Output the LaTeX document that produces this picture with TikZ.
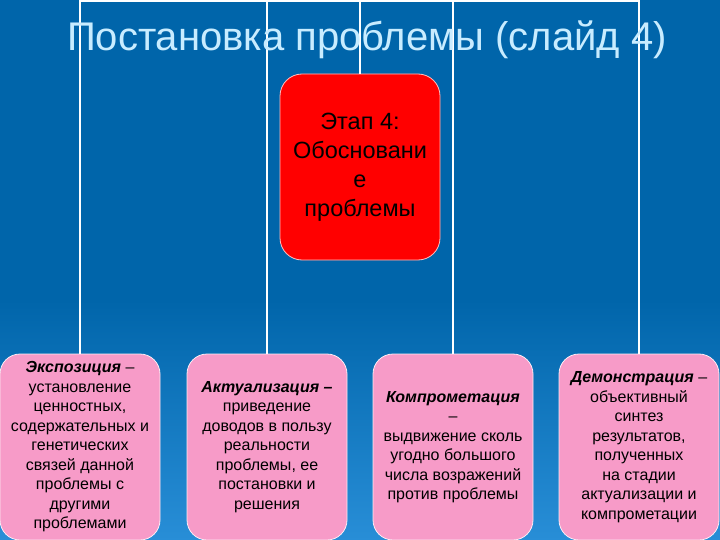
\documentclass[tikz,border=0pt]{standalone}
\usepackage{fontspec}
\setmainfont{Liberation Sans}
\definecolor{bgtop}{RGB}{0,101,170}
\definecolor{bgbot}{RGB}{40,142,215}
\definecolor{pinkfill}{RGB}{247,155,200}
\definecolor{titlecol}{RGB}{200,236,255}
\tikzset{
  conn/.style={draw=white, line width=1.6pt},
  stagebox/.style={rectangle, rounded corners=20pt, fill=pinkfill, draw=white!80!pinkfill, line width=0.8pt,
    minimum width=160pt, minimum height=186pt, inner sep=0pt, align=center,
    font=\fontsize{16}{19.5}\selectfont, text=black},
  mainbox/.style={rectangle, rounded corners=22pt, fill=red, draw=white!75!red, line width=0.8pt,
    minimum width=160pt, minimum height=186pt, inner sep=0pt, align=center,
    font=\fontsize{23.5}{29}\selectfont, text=black}
}
\begin{document}
\begin{tikzpicture}[x=1pt,y=-1pt]
\useasboundingbox (0,0) rectangle (720,540);
\fill[bgtop] (0,0) rectangle (720,300);
\shade[top color=bgtop, bottom color=bgbot] (0,299.5) rectangle (720,540);
\node[mainbox] (top) at (360,167) {Этап 4:\\Обосновани\\е\\проблемы};
\node[stagebox] (e1) at (80,447) {\textbf{\textit{Экспозиция}} –\\установление\\ценностных,\\содержательных и\\генетических\\связей данной\\проблемы с\\другими\\проблемами};
\node[stagebox] (e2) at (267,447) {\textbf{\textit{Актуализация –}}\\приведение\\доводов в пользу\\реальности\\проблемы, ее\\постановки и\\решения};
\node[stagebox] (e3) at (453,447) {\textbf{\textit{Компрометация}}\\–\\выдвижение сколь\\угодно большого\\числа возражений\\против проблемы};
\node[stagebox] (e4) at (639,447) {\textbf{\textit{Демонстрация}} –\\объективный\\синтез\\результатов,\\полученных\\на стадии\\актуализации и\\компрометации};
\coordinate (hub) at (360,1);
\draw[conn] (top.north) -- (hub);
\draw[conn] (hub) -| (e1.north);
\draw[conn] (hub) -| (e2.north);
\draw[conn] (hub) -| (e3.north);
\draw[conn] (hub) -| (e4.north);
\node[font=\fontsize{40}{48}\selectfont, text=titlecol, inner sep=0pt] (title) at (367,40) {Постановка проблемы (слайд 4)};
\end{tikzpicture}
\end{document}
